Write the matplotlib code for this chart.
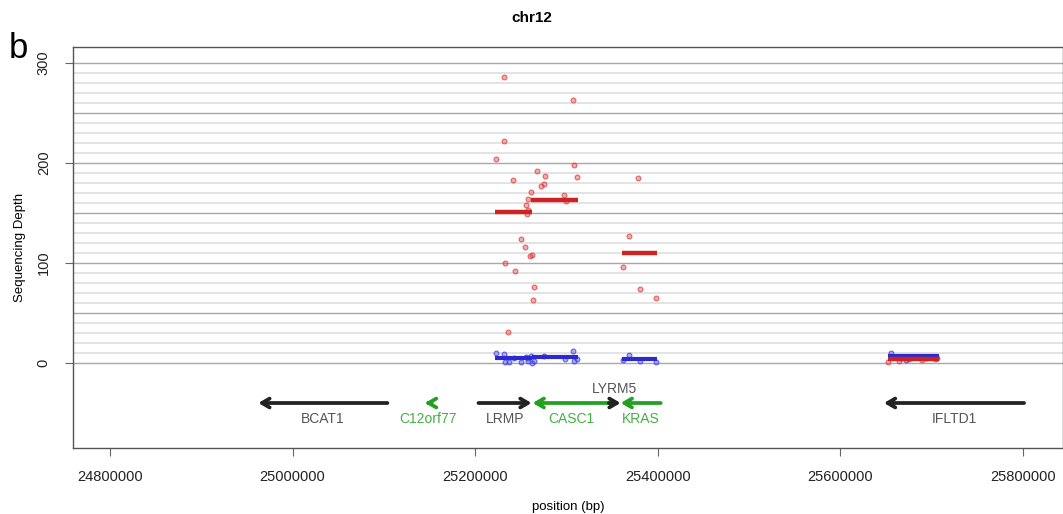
import numpy as np
import matplotlib
matplotlib.use('Agg')
import matplotlib.pyplot as plt

plt.rcParams['font.family'] = ['Liberation Sans', 'DejaVu Sans']

# tumour depth (red) and normal depth (blue) per position
red_pos = [25231930, 25307200, 25231930, 25222700, 25308300, 25267700, 25276100, 25311600,
           25241400, 25275000, 25272500, 25261100, 25297700, 25257500, 25299500, 25255600,
           25257500, 25256400, 25249800, 25254500, 25261900, 25260000, 25233000, 25243200,
           25264800, 25263000, 25236600,
           25378500, 25368300, 25362400, 25380400, 25398300,
           25653000, 25665000, 25676000, 25690000, 25704000]
red_depth = [286, 263, 222, 204, 198, 192, 187, 186,
             183, 179, 177, 171, 168, 164, 162, 158,
             153, 149, 124, 116, 108, 107, 100, 92,
             76, 63, 31,
             185, 127, 96, 74, 65,
             1, 2, 4, 3, 4]

blue_pos = [25222700, 25231900, 25233000, 25237000, 25242500, 25249800, 25255600, 25257500,
            25258300, 25261100, 25262600, 25264800, 25275800, 25298100, 25307200, 25308700,
            25311600,
            25362400, 25368300, 25380400, 25398300,
            25655700, 25666700, 25672000, 25683000, 25694000, 25706000]
blue_depth = [10, 9, 1, 1, 5, 1, 6, 5,
              2, 7, 0, 2, 7, 4, 12, 2,
              4,
              3, 8, 2, 1,
              10, 5, 3, 6, 5, 5]

# segment means: start, end, depth
red_seg = [(25221300, 25262600, 151), (25260800, 25313100, 163),
           (25361400, 25399800, 110), (25652500, 25708400, 4)]
blue_seg = [(25221300, 25262000, 5), (25262000, 25313100, 5.5),
            (25361400, 25399800, 4), (25652500, 25708400, 6.5)]

# genes: name, start, end, strand, colour
genes = ['BCAT1', 'C12orf77', 'LRMP', 'CASC1', 'LYRM5', 'KRAS', 'IFLTD1']
g_start = [24962400, 25145000, 25203700, 25263000, 25346400, 25359500, 25648000]
g_end = [25103900, 25152500, 25261900, 25347400, 25359500, 25403400, 25801600]
g_strand = ['-', '-', '+', '-', '+', '-', '-']
g_col = ['#222222', '#22a022', '#222222', '#22a022', '#222222', '#22a022', '#222222']
lab_col = ['#555555', '#44b044', '#555555', '#44b044', '#555555', '#44b044', '#555555']

fig = plt.figure(figsize=(10.63, 5.14), dpi=100)
ax = fig.add_axes([0.0687, 0.1284, 0.931, 0.7802])

# grid
for yv in range(0, 301, 10):
    if yv % 50 == 0:
        ax.axhline(yv, color='#a8a8a8', lw=1.0, zorder=0)
    else:
        ax.axhline(yv, color='#e0e0e0', lw=1.3, zorder=0)

ax.scatter(red_pos, red_depth, s=12, facecolor=(0.9, 0.3, 0.3, 0.45),
           edgecolor=(0.85, 0.2, 0.2, 0.7), lw=0.8, zorder=3)
ax.scatter(blue_pos, blue_depth, s=12, facecolor=(0.3, 0.3, 0.9, 0.45),
           edgecolor=(0.2, 0.2, 0.85, 0.7), lw=0.8, zorder=3)

for s, e, d in blue_seg:
    ax.plot([s, e], [d, d], color='#2a2ad0', lw=3, solid_capstyle='butt', zorder=4)
for s, e, d in red_seg:
    ax.plot([s, e], [d, d], color='#cc2424', lw=3.2, solid_capstyle='butt', zorder=4)

arrow_y = -40
for name, s, e, st, c, lc in zip(genes, g_start, g_end, g_strand, g_col, lab_col):
    if st == '+':
        tail, head = s, e
    else:
        tail, head = e, s
    ax.annotate('', xy=(head, arrow_y), xytext=(tail, arrow_y),
                arrowprops=dict(arrowstyle='->,head_length=0.55,head_width=0.32',
                                color=c, lw=2.7, shrinkA=0, shrinkB=0))
    mid = (s + e) / 2
    if name == 'LYRM5':
        ax.text(mid, -26, name, ha='center', va='center', fontsize=10, color=lc)
    else:
        ax.text(mid, -56, name, ha='center', va='center', fontsize=10, color=lc)

ax.set_xlim(24759400, 25843900)
ax.set_ylim(-85, 316)
ax.set_xticks([24800000, 25000000, 25200000, 25400000, 25600000, 25800000])
ax.set_xticklabels(['24800000', '25000000', '25200000', '25400000', '25600000', '25800000'])
ax.set_yticks([0, 100, 200, 300])
ax.set_yticklabels(['0', '100', '200', '300'], rotation=90, va='center')
ax.tick_params(axis='both', direction='out', length=6, color='#666666', labelsize=10.5,
               labelcolor='#222222', pad=10)
for sp in ax.spines.values():
    sp.set_color('#555555')
    sp.set_linewidth(1.0)

ax.set_xlabel('position (bp)', fontsize=9.5, labelpad=12)
ax.set_ylabel('Sequencing Depth', fontsize=9.5, labelpad=8)
fig.text(0.5, 0.965, 'chr12', ha='center', va='center', fontsize=11, fontweight='bold')
fig.text(0.008, 0.905, 'b', ha='left', va='center', fontsize=25)

fig.savefig('out.png', dpi=100)
